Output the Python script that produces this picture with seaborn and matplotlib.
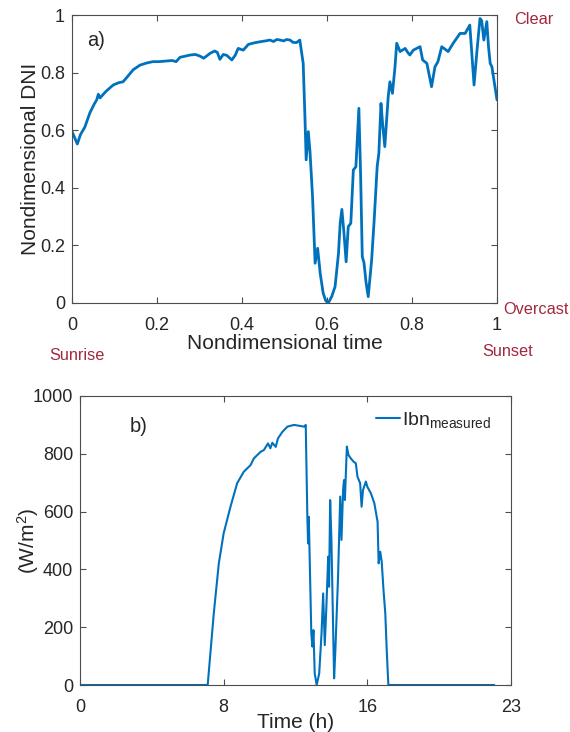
import numpy as np
import pandas as pd
import matplotlib
matplotlib.use("Agg")
import matplotlib.pyplot as plt
import seaborn as sns

# ---- data: panel a (nondimensional) ----
t_nd = [0.0, 0.006, 0.0125, 0.02, 0.03, 0.042, 0.052, 0.058, 0.062, 0.066, 0.08, 0.097,
        0.11, 0.12, 0.13, 0.144, 0.16, 0.175, 0.19, 0.205, 0.22, 0.236, 0.245, 0.254,
        0.278, 0.29, 0.30, 0.31, 0.325, 0.336, 0.342, 0.348, 0.356, 0.364, 0.376, 0.384,
        0.391, 0.403, 0.415, 0.428, 0.442, 0.455, 0.466, 0.474, 0.482, 0.49, 0.498, 0.505,
        0.513, 0.52, 0.528, 0.536, 0.544, 0.548, 0.551, 0.556, 0.56, 0.566, 0.572, 0.578,
        0.584, 0.591, 0.597, 0.603, 0.611, 0.619, 0.627, 0.631, 0.635, 0.64, 0.645, 0.65,
        0.656, 0.662, 0.668, 0.675, 0.679, 0.683, 0.687, 0.692, 0.697, 0.705, 0.711, 0.718,
        0.722, 0.727, 0.731, 0.736, 0.744, 0.748, 0.754, 0.76, 0.764, 0.772, 0.784, 0.79,
        0.795, 0.803, 0.819, 0.825, 0.835, 0.846, 0.854, 0.861, 0.87, 0.885, 0.897, 0.913,
        0.925, 0.936, 0.946, 0.953, 0.96, 0.964, 0.969, 0.976, 0.98, 0.984, 0.988, 1.0]
dni_nd = [0.595, 0.575, 0.552, 0.585, 0.61, 0.66, 0.69, 0.705, 0.725, 0.712, 0.735, 0.757,
          0.765, 0.768, 0.785, 0.81, 0.826, 0.833, 0.838, 0.838, 0.84, 0.842, 0.838, 0.853,
          0.861, 0.863, 0.858, 0.85, 0.867, 0.875, 0.87, 0.846, 0.863, 0.86, 0.844, 0.86,
          0.884, 0.878, 0.898, 0.903, 0.907, 0.91, 0.913, 0.908, 0.915, 0.913, 0.91, 0.915,
          0.913, 0.905, 0.904, 0.913, 0.832, 0.65, 0.497, 0.595, 0.525, 0.369, 0.138, 0.19,
          0.103, 0.034, 0.008, 0.0, 0.022, 0.057, 0.172, 0.277, 0.325, 0.242, 0.143, 0.265,
          0.277, 0.462, 0.473, 0.676, 0.45, 0.161, 0.14, 0.07, 0.022, 0.149, 0.288, 0.473,
          0.52, 0.693, 0.62, 0.543, 0.716, 0.768, 0.728, 0.82, 0.902, 0.873, 0.884, 0.87,
          0.861, 0.878, 0.89, 0.844, 0.832, 0.751, 0.82, 0.838, 0.89, 0.873, 0.902, 0.936,
          0.936, 0.965, 0.757, 0.878, 0.988, 0.98, 0.913, 0.977, 0.89, 0.832, 0.82, 0.705]

# ---- data: panel b (measured DNI, W/m2) ----
hours = [0, 7.11, 7.45, 7.73, 8.0, 8.38, 8.75, 9.12, 9.5, 9.68, 10.06, 10.24, 10.47, 10.6,
         10.71, 10.9, 11.02, 11.27, 11.55, 11.92, 12.29, 12.48, 12.57, 12.66, 12.7, 12.74,
         12.88, 12.94, 13.0, 13.07, 13.18, 13.32, 13.45, 13.54, 13.63, 13.72, 13.82, 13.87,
         13.93, 14.0, 14.15, 14.22, 14.37, 14.49, 14.56, 14.65, 14.7, 14.75, 14.86, 14.95,
         15.08, 15.23, 15.36, 15.45, 15.6, 15.68, 15.76, 15.92, 16.0, 16.2, 16.39, 16.57,
         16.63, 16.72, 16.8, 16.9, 17.0, 17.08, 17.17, 23.07]
ibn = [0, 0, 248, 421, 525, 617, 698, 738, 761, 784, 807, 813, 836, 819,
       838, 824, 853, 876, 894, 900, 896, 894, 900, 582, 490, 582,
       179, 133, 190, 40, 0, 40, 179, 317, 138, 271, 444, 340,
       640, 502, 23, 121, 375, 652, 502, 675, 709, 640, 825, 796,
       784, 773, 767, 721, 698, 617, 675, 704, 686, 663, 629, 565,
       421, 461, 427, 329, 248, 121, 0, 0]

x_ticks_a = [0, 0.2, 0.4, 0.6, 0.8, 1]
x_labels_a = ["0", "0.2", "0.4", "0.6", "0.8", "1"]
y_ticks_a = [0, 0.2, 0.4, 0.6, 0.8, 1]
y_labels_a = ["0", "0.2", "0.4", "0.6", "0.8", "1"]
x_ticks_b = [0, 8, 16, 24]
x_labels_b = ["0", "8", "16", "23"]
y_ticks_b = [0, 200, 400, 600, 800, 1000]

sns.set_style("ticks")
plt.rcParams["font.family"] = ["Liberation Sans", "DejaVu Sans"]
plt.rcParams["mathtext.fontset"] = "custom"
plt.rcParams["mathtext.rm"] = "Liberation Sans"
plt.rcParams["mathtext.it"] = "Liberation Sans"

TXT = "#262626"
AX = "#4d4d4d"
LINE = "#0072BD"
RED = "#A0293F"

fig = plt.figure(figsize=(5.70, 7.32), dpi=100)
W, H = 570, 732

def add_axes(l, t, r, b):
    return fig.add_axes([l / W, 1 - b / H, (r - l) / W, (b - t) / H])

ax1 = add_axes(72, 15, 497, 303)
ax2 = add_axes(80, 396, 511, 685)

df_a = pd.DataFrame({"t": t_nd, "dni": dni_nd})
df_b = pd.DataFrame({"h": hours, "ibn": ibn})

sns.lineplot(data=df_a, x="t", y="dni", ax=ax1, color=LINE, lw=2.0, estimator=None, sort=False)
sns.lineplot(data=df_b, x="h", y="ibn", ax=ax2, color=LINE, lw=1.5, estimator=None, sort=False,
             label=r"Ibn$_{\mathrm{measured}}$")

def style(ax):
    for s in ax.spines.values():
        s.set_visible(True)
        s.set_color(AX)
        s.set_linewidth(0.8)
    ax.tick_params(direction="in", length=4, width=0.8, color=AX, top=True, right=True,
                   labeltop=False, labelright=False, labelsize=13, labelcolor=TXT)
    ax.tick_params(axis="x", pad=10)
    ax.tick_params(axis="y", pad=5)

ax1.set_xlim(0, 1)
ax1.set_ylim(0, 1)
ax1.set_xticks(x_ticks_a, x_labels_a)
ax1.set_yticks(y_ticks_a, y_labels_a)
style(ax1)
ax1.set_xlabel("Nondimensional time", fontsize=15, color=TXT, labelpad=0)
ax1.set_ylabel("Nondimensional DNI", fontsize=15, color=TXT, labelpad=0)
ax1.text(0.035, 0.91, "a)", transform=ax1.transAxes, fontsize=14.5, color=TXT, va="center")

ax2.set_xlim(0, 24)
ax2.set_ylim(0, 1000)
ax2.set_xticks(x_ticks_b, x_labels_b)
ax2.set_yticks(y_ticks_b)
style(ax2)
ax2.set_xlabel("Time (h)", fontsize=15, color=TXT, labelpad=-2)
ax2.set_ylabel(r"(W/m$^2$)", fontsize=15, color=TXT, labelpad=-6)
ax2.text(0.115, 0.895, "b)", transform=ax2.transAxes, fontsize=14.5, color=TXT, va="center")
leg = ax2.legend(loc="upper right", frameon=False, fontsize=14, handlelength=1.2,
                 handletextpad=0.1, borderaxespad=0.3, bbox_to_anchor=(0.985, 1.0))
for txt in leg.get_texts():
    txt.set_color(TXT)

fig.text(534 / W, 1 - 20 / H, "Clear", color=RED, fontsize=11.7, ha="center", va="center")
fig.text(535.5 / W, 1 - 310 / H, "Overcast", color=RED, fontsize=11.7, ha="center", va="center")
fig.text(507.5 / W, 1 - 352 / H, "Sunset", color=RED, fontsize=11.7, ha="center", va="center")
fig.text(76.5 / W, 1 - 355 / H, "Sunrise", color=RED, fontsize=11.7, ha="center", va="center")

fig.savefig("out.png", dpi=100, facecolor="white")
